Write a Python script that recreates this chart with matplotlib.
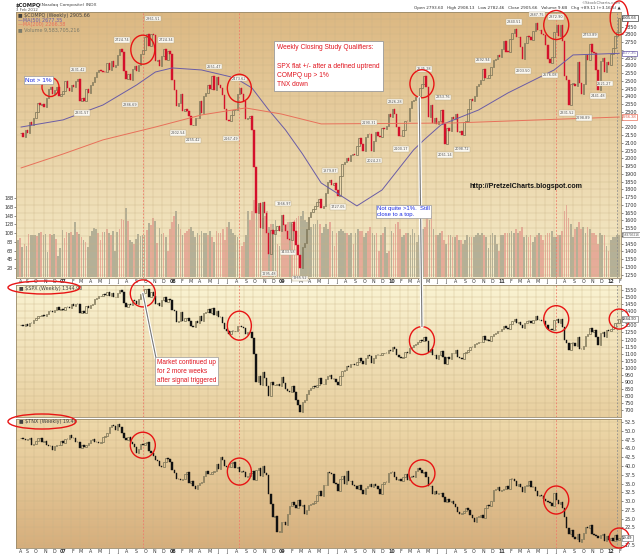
import numpy as np
import pandas as pd
import matplotlib
matplotlib.use("Agg")
import matplotlib.pyplot as plt
import matplotlib.dates as mdates
import matplotlib.colors as mcolors
import matplotlib.patheffects as pe
from matplotlib.patches import Ellipse, ConnectionPatch

# weekly closes (Fridays, 18 Aug 2006 .. 3 Feb 2012)
compq_close = [
    # 2006
    2163, 2140, 2184, 2166, 2236, 2218, 2258, 2300, 2357, 2342, 2350, 2330, 2390, 2445, 2460,
    2413, 2438, 2457, 2401, 2415,
    # 2007
    2434, 2502, 2451, 2435, 2475, 2459, 2496, 2515, 2368, 2387, 2372, 2448, 2421, 2471, 2491,
    2526, 2557, 2572, 2562, 2558, 2557, 2613, 2573, 2626, 2588, 2603, 2666, 2707, 2688, 2562,
    2511, 2544, 2505, 2576, 2596, 2566, 2602, 2671, 2701, 2780, 2805, 2726, 2804, 2795, 2627,
    2637, 2596, 2661, 2706, 2635, 2691, 2674,
    # 2008
    2504, 2439, 2340, 2360, 2413, 2304, 2321, 2303, 2271, 2212, 2212, 2258, 2261, 2370, 2290,
    2402, 2422, 2476, 2445, 2528, 2444, 2523, 2474, 2454, 2406, 2316, 2245, 2239, 2282, 2310,
    2310, 2414, 2452, 2415, 2368, 2255, 2261, 2273, 2183, 1947, 1649, 1711, 1552, 1721, 1647,
    1516, 1385, 1536, 1509, 1540, 1564, 1530,
    # 2009
    1632, 1571, 1530, 1477, 1476, 1591, 1534, 1441, 1377, 1293, 1431, 1457, 1545, 1622, 1652,
    1673, 1694, 1719, 1739, 1680, 1692, 1774, 1849, 1858, 1827, 1838, 1797, 1756, 1886, 1966,
    1979, 2000, 1985, 2020, 2028, 2019, 2080, 2132, 2090, 2048, 2139, 2156, 2154, 2045, 2112,
    2167, 2147, 2138, 2194, 2190, 2211, 2285,
    # 2010
    2269, 2317, 2288, 2205, 2147, 2141, 2184, 2243, 2238, 2327, 2368, 2374, 2395, 2402, 2454,
    2481, 2530, 2461, 2265, 2347, 2229, 2257, 2219, 2243, 2309, 2223, 2092, 2196, 2179, 2269,
    2255, 2288, 2173, 2179, 2153, 2234, 2242, 2316, 2381, 2370, 2402, 2468, 2479, 2507, 2578,
    2518, 2518, 2535, 2592, 2637, 2642, 2665, 2653,
    # 2011
    2703, 2755, 2689, 2687, 2769, 2809, 2834, 2782, 2784, 2715, 2643, 2743, 2789, 2780, 2764,
    2820, 2874, 2827, 2828, 2803, 2796, 2733, 2644, 2616, 2652, 2816, 2860, 2790, 2859, 2756,
    2532, 2507, 2342, 2480, 2480, 2468, 2622, 2483, 2415, 2479, 2667, 2637, 2738, 2686, 2679,
    2572, 2441, 2626, 2647, 2555, 2619, 2605,
    # 2012
    2674, 2710, 2787, 2816, 2905.66,
]

spx_close = [
    1302, 1296, 1311, 1299, 1319, 1314, 1336, 1350, 1366, 1368, 1377, 1364, 1380, 1401, 1400,
    1397, 1409, 1427, 1410, 1418,
    1409, 1431, 1430, 1423, 1449, 1438, 1455, 1451, 1387, 1402, 1386, 1437, 1421, 1443, 1452,
    1484, 1494, 1505, 1505, 1522, 1515, 1536, 1507, 1533, 1503, 1503, 1530, 1552, 1534, 1459,
    1434, 1453, 1445, 1479, 1473, 1454, 1484, 1525, 1527, 1557, 1561, 1500, 1535, 1509, 1453,
    1458, 1440, 1481, 1504, 1467, 1484, 1478,
    1411, 1401, 1325, 1330, 1395, 1331, 1349, 1353, 1331, 1294, 1288, 1330, 1316, 1370, 1333,
    1390, 1398, 1414, 1388, 1426, 1375, 1400, 1361, 1360, 1318, 1278, 1262, 1239, 1261, 1257,
    1260, 1296, 1298, 1292, 1283, 1242, 1252, 1255, 1213, 1099, 899, 940, 877, 969, 930,
    873, 800, 896, 876, 880, 887, 873,
    932, 890, 850, 832, 826, 869, 827, 770, 735, 683, 757, 768, 816, 843, 857,
    870, 866, 877, 929, 883, 887, 919, 940, 946, 921, 918, 896, 880, 940, 979,
    987, 1010, 1005, 1026, 1029, 1016, 1042, 1068, 1044, 1025, 1071, 1087, 1080, 1036, 1069,
    1093, 1091, 1091, 1106, 1106, 1102, 1126,
    1115, 1145, 1136, 1092, 1074, 1066, 1075, 1109, 1104, 1139, 1150, 1160, 1167, 1179, 1194,
    1192, 1217, 1187, 1111, 1136, 1087, 1089, 1064, 1092, 1117, 1076, 1023, 1078, 1065, 1102,
    1102, 1122, 1079, 1071, 1065, 1105, 1110, 1126, 1149, 1147, 1166, 1176, 1183, 1183, 1225,
    1200, 1200, 1190, 1225, 1240, 1244, 1257, 1258,
    1272, 1293, 1283, 1276, 1310, 1329, 1343, 1320, 1321, 1304, 1279, 1314, 1332, 1328, 1320,
    1337, 1364, 1340, 1338, 1333, 1331, 1300, 1271, 1272, 1268, 1340, 1344, 1316, 1345, 1292,
    1199, 1178, 1124, 1177, 1174, 1154, 1216, 1136, 1131, 1155, 1224, 1238, 1285, 1253, 1264,
    1216, 1159, 1244, 1255, 1219, 1265, 1258,
    1278, 1289, 1315, 1316, 1344.90,
]

tnx_close = [
    48.0, 47.8, 47.3, 47.8, 47.9, 45.9, 46.3, 47.0, 48.0, 48.0, 46.8, 47.1, 46.0, 45.8, 45.6,
    44.4, 45.6, 46.0, 46.1, 47.0,
    46.5, 47.8, 47.6, 48.8, 48.0, 47.9, 46.9, 46.8, 45.2, 45.9, 45.4, 46.0, 46.5, 47.4, 47.6,
    46.8, 46.7, 46.4, 46.7, 48.1, 48.5, 49.5, 51.2, 51.6, 51.3, 50.3, 51.9, 51.0, 49.5, 47.9,
    47.3, 48.1, 46.7, 46.2, 45.4, 43.8, 44.7, 46.3, 45.9, 46.4, 46.8, 44.2, 43.8, 42.9, 41.6,
    41.5, 40.1, 39.7, 41.1, 42.4, 41.9, 41.2,
    38.8, 37.9, 36.4, 36.2, 35.9, 36.4, 37.7, 38.3, 35.1, 35.8, 34.4, 33.3, 34.6, 35.2, 35.3,
    37.2, 38.6, 37.7, 37.7, 38.4, 38.5, 40.6, 39.1, 42.6, 41.7, 39.9, 39.8, 39.6, 40.8, 41.1,
    39.5, 39.6, 38.4, 38.6, 38.3, 36.8, 37.2, 37.9, 38.5, 36.1, 38.9, 39.4, 37.2, 40.0, 38.1,
    37.3, 31.9, 29.2, 25.6, 25.7, 21.3, 21.3,
    24.0, 24.0, 23.2, 26.2, 28.5, 29.8, 28.9, 27.9, 30.2, 28.7, 28.9, 26.4, 27.6, 29.0, 29.2,
    29.5, 29.9, 31.6, 32.9, 31.4, 34.5, 34.6, 38.3, 37.9, 37.8, 35.1, 35.0, 33.0, 36.4, 37.0,
    34.8, 38.5, 35.6, 35.6, 34.5, 34.4, 33.4, 34.6, 33.1, 32.1, 33.8, 34.3, 34.9, 33.9, 35.0,
    34.2, 33.5, 32.1, 34.8, 35.4, 35.3, 38.0,
    38.4, 38.3, 36.8, 36.1, 36.3, 35.7, 36.9, 37.8, 36.1, 36.8, 37.1, 36.9, 38.6, 39.5, 38.8,
    37.9, 38.2, 36.9, 34.2, 34.4, 32.0, 32.9, 31.9, 32.2, 32.2, 31.1, 29.8, 30.5, 29.6, 30.0,
    29.1, 28.2, 26.8, 26.2, 26.5, 27.1, 27.9, 27.4, 26.1, 25.1, 24.0, 25.6, 25.6, 26.0, 25.3,
    27.9, 28.8, 28.7, 30.1, 33.2, 33.3, 33.9, 33.0,
    33.2, 33.3, 34.3, 33.3, 36.4, 36.3, 35.8, 34.2, 34.9, 34.0, 32.7, 34.4, 34.5, 35.8, 34.1,
    33.9, 32.9, 31.5, 31.7, 31.5, 30.7, 29.9, 29.7, 29.4, 28.7, 32.2, 30.3, 29.1, 29.6, 28.0,
    25.6, 22.4, 20.6, 21.9, 19.9, 19.1, 20.5, 18.4, 19.2, 20.8, 22.5, 22.3, 23.2, 20.5, 20.4,
    20.1, 19.6, 20.4, 20.6, 18.5, 20.2, 18.8,
    19.6, 18.7, 20.3, 18.9, 19.49,
]

# weekly volume, hundreds of millions of shares
volume = [
    84, 88, 68, 75, 70, 98, 95, 95, 96, 93, 100, 102, 95, 98, 57, 97, 96, 97, 86, 48,
    66, 107, 88, 102, 100, 102, 96, 125, 102, 98, 92, 85, 80, 68, 93, 105, 112, 110, 100, 85,
    103, 103, 110, 100, 96, 104, 60, 102, 110, 132, 130, 158, 128, 84, 80, 76, 86, 97, 93, 96,
    95, 108, 122, 118, 135, 127, 78, 112, 98, 100, 90, 60,
    110, 125, 140, 150, 120, 110, 95, 100, 105, 110, 115, 105, 90, 100, 95, 105, 100, 100, 95, 105,
    90, 80, 105, 100, 100, 110, 85, 115, 125, 110, 100, 95, 90, 85, 70, 80, 95, 150, 130, 150,
    175, 180, 160, 150, 135, 140, 150, 115, 120, 120, 130, 75,
    70, 110, 120, 120, 125, 125, 120, 130, 135, 140, 140, 150, 130, 125, 110, 115, 120, 120, 130, 120,
    100, 115, 120, 110, 125, 105, 70, 100, 105, 110, 105, 100, 100, 95, 100, 75, 100, 110, 105, 105,
    90, 100, 105, 115, 100, 95, 100, 60, 95, 100, 115, 55,
    60, 105, 100, 120, 125, 110, 90, 95, 100, 100, 95, 110, 100, 80, 95, 110, 110, 115, 150, 130,
    140, 110, 95, 95, 100, 105, 85, 75, 95, 95, 90, 90, 95, 85, 85, 75, 85, 95, 90, 90,
    90, 95, 100, 95, 100, 95, 90, 65, 95, 100, 95, 75, 60,
    95, 95, 100, 100, 100, 105, 100, 110, 100, 105, 115, 90, 95, 90, 95, 80, 90, 95, 100, 95,
    85, 95, 100, 100, 105, 90, 90, 95, 95, 105, 150, 165, 135, 120, 90, 110, 115, 125, 110, 115,
    100, 115, 110, 100, 100, 95, 75, 100, 95, 95, 70, 60,
    85, 90, 90, 95, 95.84,
]

# moving averages
ma50_dates = ['2006-08-18', '2007-01-05', '2007-05-18', '2007-09-07', '2007-11-09', '2008-01-04',
              '2008-04-11', '2008-08-01', '2008-09-26', '2008-11-21', '2009-01-16', '2009-03-13',
              '2009-05-15', '2009-09-11', '2009-12-04', '2010-03-19', '2010-04-23', '2010-06-18',
              '2010-10-22', '2011-01-28', '2011-07-01', '2011-09-02', '2012-02-03']
ma50_vals = [2202, 2248, 2344, 2473, 2557, 2583, 2570, 2519, 2454, 2312, 2183, 2030,
             1841, 1693, 1796, 2054, 2119, 2215, 2312, 2422, 2570, 2667, 2677.35]
ma200_dates = ['2006-08-18', '2007-01-05', '2007-05-18', '2007-11-09', '2008-04-11', '2008-09-05',
               '2009-01-02', '2009-05-15', '2010-07-30', '2011-05-13', '2012-02-03']
ma200_vals = [1938, 2028, 2119, 2202, 2280, 2325, 2286, 2222, 2228, 2248, 2266.38]

# weeks marked by the study
signal_weeks = ['2007-09-28', '2008-08-15', '2011-07-08']
last_signal = '2012-01-27'
top_circles = [('2006-11-24', 17, 19), ('2007-09-28', 24, 29), ('2008-08-15', 24, 28),
               ('2010-04-16', 24, 28), ('2011-07-08', 25, 29), ('2012-02-03', 18, 34)]
mid_circles = [('2007-09-28', 25, 27), ('2008-08-15', 24, 29), ('2010-04-16', 25, 28),
               ('2011-07-08', 25, 27), ('2012-02-03', 20, 20)]
bot_circles = [('2007-09-28', 25, 26), ('2008-08-15', 24, 27), ('2010-04-16', 26, 27),
               ('2011-07-08', 25, 28), ('2012-02-03', 20, 20)]

# high / low value flags on the COMPQ panel
hl_dates = ['2007-02-23', '2007-03-09', '2007-07-20', '2007-08-17', '2007-11-02', '2007-12-14',
            '2008-01-25', '2008-03-14', '2008-05-23', '2008-07-18', '2008-08-15', '2008-11-21',
            '2009-01-09', '2009-01-23', '2009-03-06', '2009-06-12', '2009-07-10', '2009-10-23',
            '2009-11-06', '2010-01-15', '2010-02-05', '2010-04-23', '2010-06-25', '2010-07-02',
            '2010-08-27', '2010-11-05', '2011-02-18', '2011-03-18', '2011-05-06', '2011-06-17',
            '2011-07-08', '2011-08-12', '2011-10-07', '2011-10-28', '2011-11-25', '2011-12-16']
hl_vals = [2531.42, 2331.57, 2724.74, 2386.69, 2861.51, 2724.34, 2202.54, 2155.42, 2551.47,
           2167.49, 2473.62, 1295.48, 1666.97, 1433.58, 1265.52, 1879.87, 1727.05, 2190.31,
           2024.23, 2326.28, 2100.17, 2535.28, 2353.76, 2061.14, 2098.72, 2592.94, 2840.51,
           2603.50, 2887.75, 2576.08, 2872.90, 2331.52, 2298.89, 2753.89, 2441.48, 2521.27]
hl_side = ['h', 'l', 'h', 'l', 'h', 'h', 'l', 'l', 'h', 'l', 'h', 'l', 'h', 'l', 'l', 'h', 'l', 'h',
           'l', 'h', 'l', 'h', 'h', 'l', 'l', 'h', 'h', 'l', 'h', 'l', 'h', 'l', 'l', 'h', 'l', 'l']

n = len(compq_close)
assert len(spx_close) == n and len(tnx_close) == n and len(volume) == n, \
    (n, len(spx_close), len(tnx_close), len(volume))

weeks = pd.date_range('2006-08-18', periods=n, freq='W-FRI')
xw = mdates.date2num(weeks)
compq = pd.Series(compq_close, index=weeks, dtype=float)
spx = pd.Series(spx_close, index=weeks, dtype=float)
tnx = pd.Series(tnx_close, index=weeks, dtype=float)

plt.rcParams['font.family'] = 'DejaVu Sans'
W, H = 640, 557
fig = plt.figure(figsize=(W / 100, H / 100), dpi=100, facecolor='white')


def frect(l, t, r, b):
    return [l / W, 1 - b / H, (r - l) / W, (b - t) / H]


R_TOP = frect(16, 12, 621, 278)
R_MID = frect(16, 285, 621, 417)
R_BOT = frect(16, 419, 621, 548)
XLIM = (mdates.date2num(pd.Timestamp('2006-08-11')), mdates.date2num(pd.Timestamp('2012-02-09')))

GRID = '#c8b286'
SPINE = '#9a8a6a'
UP_EDGE = '#7f775a'
RED = '#d4102b'
CIRC = '#e81414'


def gradient_bg(rect, c_top, c_bot):
    bg = fig.add_axes(rect, zorder=0)
    t = np.linspace(0, 1, 256)[:, None, None]
    img = np.array(mcolors.to_rgb(c_top)) * (1 - t) + np.array(mcolors.to_rgb(c_bot)) * t
    bg.imshow(img, aspect='auto', extent=(0, 1, 0, 1))
    bg.set_axis_off()


def candles(ax, series, dn_col, min_h):
    c = series.values
    o = np.r_[c[0], c[:-1]]
    up = c >= o
    body = np.maximum(np.abs(c - o), min_h)
    low = np.minimum(o, c)
    ax.bar(xw[up], body[up], bottom=low[up], width=4.8, facecolor='none',
           edgecolor=UP_EDGE, linewidth=0.55, zorder=3)
    ax.bar(xw[~up], body[~up], bottom=low[~up], width=4.8, color=dn_col,
           edgecolor=dn_col, linewidth=0.3, zorder=3)
    return up


month_starts = pd.date_range('2006-08-01', '2012-02-01', freq='MS')
month_labels = [f'{d.year % 100:02d}' if d.month == 1 else 'JFMAMJJASOND'[d.month - 1]
                for d in month_starts]
label_pos = np.maximum(mdates.date2num(month_starts + pd.Timedelta(days=5)), XLIM[0] + 5)


def style_axis(ax, yticks, ylabels, show_x):
    ax.set_xlim(XLIM)
    ax.patch.set_alpha(0)
    ax.set_xticks(mdates.date2num(month_starts), minor=True)
    ax.set_xticks(label_pos)
    if show_x:
        ax.set_xticklabels(month_labels)
        for lbl in ax.get_xticklabels():
            if lbl.get_text().isdigit():
                lbl.set_fontweight('bold')
    else:
        ax.set_xticklabels([])
    ax.tick_params(axis='x', which='both', length=0, labelsize=3.4, pad=0.8, colors='#333333')
    ax.set_yticks(yticks)
    ax.set_yticklabels(ylabels)
    ax.yaxis.tick_right()
    ax.tick_params(axis='y', labelsize=3.5, length=1.5, width=0.4, pad=1, colors='#333333')
    ax.grid(True, which='minor', axis='x', color=GRID, lw=0.35, alpha=0.7, zorder=1)
    ax.grid(True, which='major', axis='y', color=GRID, lw=0.35, alpha=0.7, zorder=1)
    ax.grid(False, which='major', axis='x')
    for s in ax.spines.values():
        s.set_color(SPINE)
        s.set_linewidth(0.6)


def tick_labels(ticks, fmt, hidden):
    # labels that sit under a value box on the right edge are left blank
    return ['' if any(abs(t - h) < tol for h, tol in hidden) else fmt.format(t) for t in ticks]


def px_to_data(ax, wpx, hpx):
    bb = ax.get_position()
    x0, x1 = ax.get_xlim()
    y0, y1 = ax.get_ylim()
    return wpx * (x1 - x0) / (bb.width * W), hpx * (y1 - y0) / (bb.height * H)


def circles(ax, series, spec):
    for d, wpx, hpx in spec:
        dx, dy = px_to_data(ax, wpx, hpx)
        ax.add_patch(Ellipse((mdates.date2num(pd.Timestamp(d)), series[d]), dx, dy, fill=False,
                             edgecolor=CIRC, lw=1.0, zorder=8, clip_on=False))


def signal_lines(ax):
    for d in signal_weeks:
        ax.axvline(mdates.date2num(pd.Timestamp(d)), color='#f07a6a', lw=0.6, ls=(0, (2, 2)), zorder=2)
    ax.axvline(mdates.date2num(pd.Timestamp(last_signal)), color='#8c8c8c', lw=0.6,
               ls=(0, (2, 2)), zorder=2)


def value_box(ax, y, text, ec, tc, size=3.0):
    ax.text(1.002, y, text, transform=ax.get_yaxis_transform(), fontsize=size, color=tc,
            family='Liberation Sans', ha='left', va='center', zorder=10, clip_on=False,
            bbox=dict(boxstyle='square,pad=0.15', fc='white', ec=ec, lw=0.5))


# ---------------- backgrounds ----------------
gradient_bg(R_TOP, '#dcb882', '#f6edcb')
gradient_bg(R_MID, '#faf3d2', '#e8cf9f')
gradient_bg(R_BOT, '#eed9aa', '#d6ae7c')

# ---------------- COMPQ + volume ----------------
ax_vol = fig.add_axes(R_TOP, zorder=1)
ax_top = fig.add_axes(R_TOP, zorder=2)

up_weeks = candles(ax_top, compq, RED, 3.0)
ax_vol.bar(xw, volume, width=5.6, color=np.where(up_weeks, '#a9a68f', '#e4a191'),
           alpha=0.85, zorder=2)
ax_vol.set_xlim(XLIM)
ax_vol.set_ylim(-2.3, 603.6)
ax_vol.patch.set_alpha(0)
ax_vol.set_xticks([])
vt = np.arange(20, 181, 20)
ax_vol.set_yticks(vt)
ax_vol.set_yticklabels([f'{v // 10}B' for v in vt])
ax_vol.tick_params(axis='y', labelsize=3.3, length=1.2, width=0.4, pad=0.8, colors='#333333')
for s in ax_vol.spines.values():
    s.set_visible(False)

ax_top.plot(mdates.date2num(pd.to_datetime(ma50_dates)), ma50_vals, color='#6a5ca6', lw=0.7, zorder=4)
ax_top.plot(mdates.date2num(pd.to_datetime(ma200_dates)), ma200_vals, color='#e8705a', lw=0.7, zorder=4)
ax_top.set_ylim(1228, 2944)
ct = np.arange(1250, 2901, 50)
style_axis(ax_top, ct, tick_labels(ct, '{:d}', [(compq.iloc[-1], 30), (ma50_vals[-1], 25),
                                                (ma200_vals[-1], 25), (1506, 30)]), True)
signal_lines(ax_top)
circles(ax_top, compq, top_circles)

for d, v, s in zip(hl_dates, hl_vals, hl_side):
    ax_top.annotate(f'{v:.2f}', xy=(mdates.date2num(pd.Timestamp(d)), v),
                    xytext=(0, 3 if s == 'h' else -3), textcoords='offset points',
                    ha='center', va='bottom' if s == 'h' else 'top', fontsize=2.5, color='#505050',
                    zorder=7, bbox=dict(boxstyle='square,pad=0.2', fc='#fbf8f0', ec='#b5a888', lw=0.3))

value_box(ax_top, compq.iloc[-1], f'{compq.iloc[-1]:.2f}', '#404040', '#202020')
value_box(ax_top, ma50_vals[-1], f'{ma50_vals[-1]:.2f}', '#6a5ca6', '#6a5ca6')
value_box(ax_top, ma200_vals[-1], f'{ma200_vals[-1]:.2f}', '#e8705a', '#e05a44')
value_box(ax_vol, volume[-1], '9583705216', '#808080', '#505050', size=2.3)

# legend lines in the top panel
leg = [('\u25a0 \\$COMPQ (Weekly) 2905.66', '#404040'),
       ('\u2014MA(50) 2677.35', '#6a5ca6'),
       ('\u2014MA(200) 2266.38', '#e8705a'),
       ('\u25a0 Volume 9,583,705,216', '#7a7a6a')]
for i, (t, c) in enumerate(leg):
    fig.text(18 / W, 1 - (15.5 + 4.6 * i) / H, t, fontsize=3.5, color=c, va='center', ha='left', zorder=20)

# ---------------- SPX ----------------
ax_mid = fig.add_axes(R_MID, zorder=2)
candles(ax_mid, spx, '#111111', 1.5)
ax_mid.set_ylim(650.4, 1586.5)
st = np.arange(700, 1551, 50)
style_axis(ax_mid, st, tick_labels(st, '{:d}', [(spx.iloc[-1], 20)]), False)
signal_lines(ax_mid)
circles(ax_mid, spx, mid_circles)
value_box(ax_mid, spx.iloc[-1], f'{spx.iloc[-1]:.2f}', '#808080', '#202020')
fig.text(19 / W, 1 - 288.5 / H, '\u25a0 \\$SPX (Weekly) 1344.90', fontsize=3.5, color='#404040',
         va='center', ha='left', zorder=20)

# ---------------- TNX ----------------
ax_bot = fig.add_axes(R_BOT, zorder=2)
candles(ax_bot, tnx, '#111111', 0.09)
ax_bot.set_ylim(16.65, 53.36)
tt = np.arange(17.5, 52.6, 2.5)
style_axis(ax_bot, tt, tick_labels(tt, '{:.1f}', [(tnx.iloc[-1], 1.0)]), True)
signal_lines(ax_bot)
circles(ax_bot, tnx, bot_circles)
value_box(ax_bot, tnx.iloc[-1], f'{tnx.iloc[-1]:.2f}', '#808080', '#202020')
fig.text(19 / W, 1 - 422 / H, '\u25a0 \\$TNX (Weekly) 19.49', fontsize=3.5, color='#404040',
         va='center', ha='left', zorder=20)

# ellipses round the panel titles
for cx, cy, ew, eh in [(44, 287.5, 72, 13), (42, 421.5, 68, 15)]:
    fig.add_artist(Ellipse((cx / W, 1 - cy / H), ew / W, eh / H, transform=fig.transFigure,
                           fill=False, edgecolor=CIRC, lw=1.0, zorder=25))

# ---------------- header ----------------
fig.text(16 / W, 1 - 5 / H, '\\$COMPQ', fontsize=3.8, weight='bold', color='#222222', va='center')
fig.text(40 / W, 1 - 5 / H, '(Nasdaq Composite) INDX', fontsize=3.2, color='#444444', va='center')
fig.text(16 / W, 1 - 10 / H, '3 Feb 2012', fontsize=2.8, color='#555555', va='center')
fig.text(621 / W, 1 - 3.5 / H, '\u00a9StockCharts.com', fontsize=3.0, color='#666666', ha='right', va='center')
fig.text(621 / W, 1 - 8.5 / H,
         'Open 2793.60   High 2908.13   Low 2782.46   Close 2905.66   Volume 9.6B   Chg +89.11 (+3.16%) \u25b2',
         fontsize=3.0, color='#333333', ha='right', va='center')

# ---------------- notes ----------------
ANN = dict(family='Liberation Sans', zorder=30)
fig.text(277 / W, 1 - 44 / H,
         'Weekly Closing Study Qualifiers:\n\nSPX flat +/- after a defined uptrend\nCOMPQ up > 1%\nTNX down',
         fontsize=4.8, color='#e0141e', ha='left', va='top', linespacing=1.45,
         bbox=dict(boxstyle='square,pad=0.45', fc='white', ec='#9a9a9a', lw=0.6), **ANN)
fig.text(25 / W, 1 - 80 / H, 'Not > 1%', fontsize=4.6, color='#1a2ae0', ha='left', va='center',
         bbox=dict(boxstyle='square,pad=0.2', fc='white', ec='#9a9a9a', lw=0.5), **ANN)
fig.text(377 / W, 1 - 206 / H, 'Not quite >1%.  Still\nclose to a top.', fontsize=4.3, color='#1a2ae0',
         ha='left', va='top', linespacing=1.2,
         bbox=dict(boxstyle='square,pad=0.25', fc='white', ec='#9a9a9a', lw=0.5), **ANN)
fig.text(157 / W, 1 - 359 / H, 'Market continued up\nfor 2 more weeks\nafter signal triggered',
         fontsize=4.7, color='#e0141e', ha='left', va='top', linespacing=1.35,
         bbox=dict(boxstyle='square,pad=0.3', fc='white', ec='#9a9a9a', lw=0.5), **ANN)
fig.text(470 / W, 1 - 187 / H, 'http://PretzelCharts.blogspot.com', fontsize=5.0, color='#111111',
         ha='left', va='center', family='Liberation Sans', weight='bold', zorder=30)

# callout lines with a white halo
halo = [pe.Stroke(linewidth=2.4, foreground='white'), pe.Normal()]
d0 = mdates.date2num(pd.Timestamp('2007-09-28'))
c1 = ConnectionPatch(xyA=(d0, spx['2007-09-28']), coordsA=ax_mid.transData,
                     xyB=(156 / W, 1 - 358 / H), coordsB=fig.transFigure,
                     color='#777777', lw=0.8, zorder=29)
c1.set_path_effects(halo)
fig.add_artist(c1)
d1 = mdates.date2num(pd.Timestamp('2010-04-16'))
_, hy_top = px_to_data(ax_top, 0, 14)
_, hy_mid = px_to_data(ax_mid, 0, 14)
c2 = ConnectionPatch(xyA=(d1 - 9, compq['2010-04-16'] - hy_top), coordsA=ax_top.transData,
                     xyB=(d1, spx['2010-04-16'] + hy_mid), coordsB=ax_mid.transData,
                     color='#777777', lw=0.8, zorder=29)
c2.set_path_effects(halo)
fig.add_artist(c2)

fig.savefig('out.png', dpi=100, facecolor='white')
